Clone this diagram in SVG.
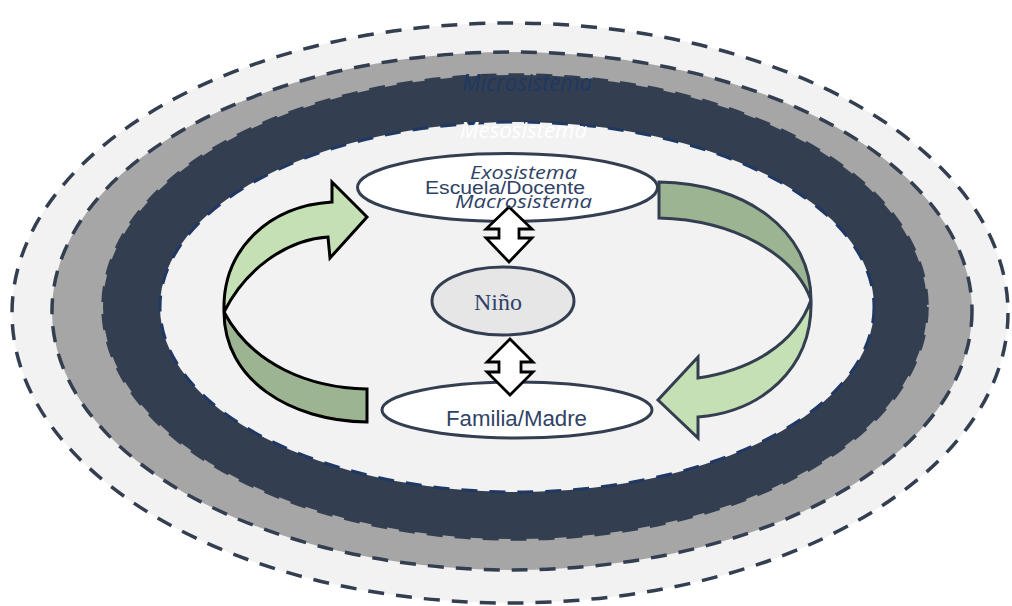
<svg xmlns="http://www.w3.org/2000/svg" width="1012" height="606" viewBox="0 0 1012 606">
  <style>
    .ring { stroke: #333f50; stroke-width: 3.5; stroke-dasharray: 16 12; }
    .node { fill: #ffffff; stroke: #333f50; stroke-width: 3; }
    .sys { font-family: "Open Sans", "Noto Sans", sans-serif; font-style: italic; }
    .lbl { font-family: "Liberation Sans", Arial, sans-serif; fill: #2f4366; }
    .dbl { fill: #ffffff; stroke: #000000; stroke-width: 2.8; stroke-linejoin: miter; }
    .light { fill: #c5e0b4; }
    .dark { fill: #9db492; }
  </style>
  <rect width="1012" height="606" fill="#ffffff"/>
  <g id="rings">
    <ellipse cx="510" cy="313" rx="498" ry="290" fill="#f2f2f2" class="ring"/>
    <ellipse cx="512" cy="311" rx="460" ry="259" fill="#a6a6a6" class="ring"/>
    <ellipse cx="515" cy="307" rx="412" ry="232" fill="#333f50" class="ring"/>
    <ellipse cx="517" cy="307" rx="357" ry="185" fill="#f2f2f2" stroke="#1f3864" stroke-width="3" stroke-dasharray="16 12"/>
  </g>
  <g id="labels-systems-outer">
    <text class="sys" x="462" y="91" font-size="23" fill="#1f3864" textLength="130" lengthAdjust="spacingAndGlyphs">Microsistema</text>
    <text class="sys" x="460" y="138" font-size="21" fill="#ffffff" textLength="127" lengthAdjust="spacingAndGlyphs">Mesosistema</text>
  </g>
  <g id="escuela">
    <ellipse class="node" cx="507.5" cy="187.5" rx="150" ry="34"/>
    <text class="lbl" x="425" y="194" font-size="18" textLength="160" lengthAdjust="spacingAndGlyphs">Escuela/Docente</text>
  </g>
  <g id="nino">
    <ellipse cx="503" cy="301" rx="71" ry="34" fill="#e6e6e6" stroke="#333f50" stroke-width="3"/>
    <text x="474" y="310" font-family="Liberation Serif, 'Times New Roman', serif" font-size="24" fill="#2f4366" textLength="48" lengthAdjust="spacingAndGlyphs">Niño</text>
  </g>
  <g id="familia">
    <ellipse class="node" cx="517" cy="410" rx="135" ry="28"/>
    <text class="lbl" x="446" y="426" font-size="22" textLength="141" lengthAdjust="spacingAndGlyphs">Familia/Madre</text>
  </g>
  <g id="connectors">
    <path class="dbl" d="M509,207 L532,229 L519,229 L519,238 L532,238 L509,262 L486,238 L499,238 L499,229 L486,229 Z"/>
    <path class="dbl" d="M510,339 L533,362 L521,362 L521,372 L533,372 L510,395 L487,372 L499,372 L499,362 L487,362 Z"/>
    <g stroke="#000000" stroke-width="3" stroke-linejoin="miter">
      <path class="dark" d="M224,312 C224,380 290,421 367,422 L367,389 C310,388 252,365 224,312 Z"/>
      <path class="light" d="M224,312 C222,250 268,206 332,202 L332,182 L367,217 L330,258 L328,237 C285,240 245,270 224,312 Z"/>
    </g>
    <g stroke="#333f50" stroke-width="3" stroke-linejoin="miter">
      <path class="dark" d="M659,182 C745,183 811,230 811,300 C795,255 735,220 659,218 Z"/>
      <path class="light" d="M811,300 C813,370 760,412 698,417 L698,438 L658,400 L698,357 L698,378 C750,370 795,345 811,300 Z"/>
    </g>
  </g>
  <g id="labels-systems-inner">
    <text class="sys" x="470" y="179" font-size="18" fill="#2f4366" textLength="107" lengthAdjust="spacingAndGlyphs">Exosistema</text>
    <text class="sys" x="455" y="208" font-size="18" fill="#2f4366" textLength="137" lengthAdjust="spacingAndGlyphs">Macrosistema</text>
  </g>
</svg>
